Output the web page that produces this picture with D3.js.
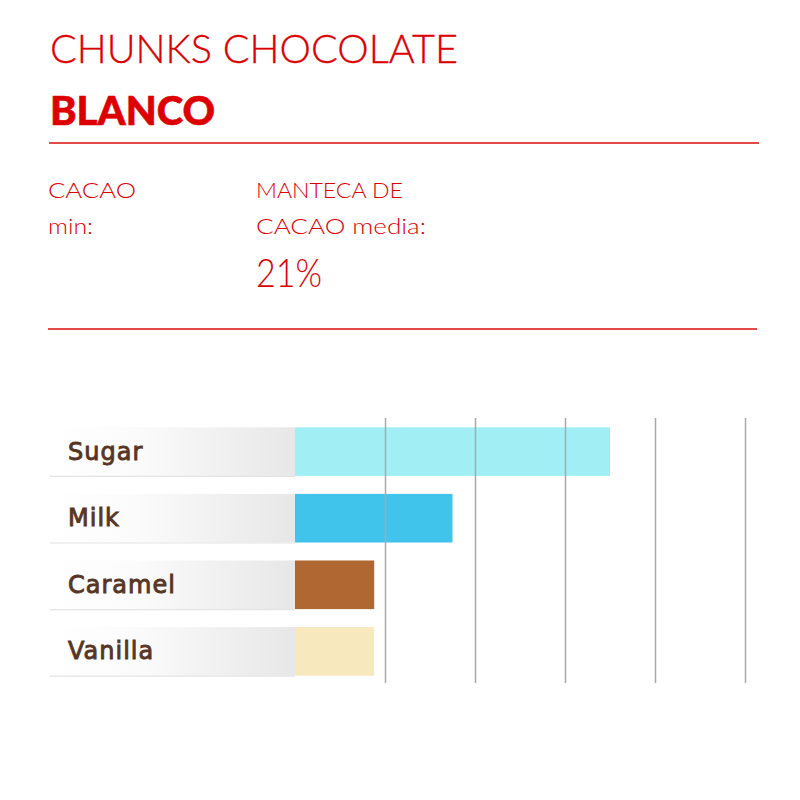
<!DOCTYPE html>
<html><head><meta charset="utf-8">
<script src="https://cdn.jsdelivr.net/npm/d3@7"></script>
<style>html,body{margin:0;padding:0;background:#fff}</style>
</head><body>
<svg id="c" width="800" height="800"></svg>
<script>
const categories = ["Sugar", "Milk", "Caramel", "Vanilla"];
const values = [3.5, 1.75, 0.88, 0.88];
const barColors = ["#a1eff5", "#40c4ec", "#b06731", "#f7e9bd"];
const tickValues = [1, 2, 3, 4, 5];
const title = "CHUNKS CHOCOLATE";
const subtitle = "BLANCO";
const infoLeft = ["CACAO", "min:"];
const infoRight = ["MANTECA DE", "CACAO media:"];
const infoValue = "21%";

const RED = "#dd0000";
const svg = d3.select("#c");
const FONT = "Lato";

// stretch a text element horizontally to a target width
function fit(sel, w) { sel.attr("textLength", w).attr("lengthAdjust", "spacingAndGlyphs"); return sel; }

// header
fit(svg.append("text").attr("x", 50).attr("y", 63).attr("fill", RED)
  .attr("font-family", FONT).attr("font-weight", 300).attr("font-size", 39.5)
  .attr("stroke", RED).attr("stroke-width", 0.3).text(title), 408);
fit(svg.append("text").attr("x", 50).attr("y", 125).attr("fill", RED)
  .attr("font-family", FONT).attr("font-weight", 900).attr("font-size", 39)
  .attr("stroke", RED).attr("stroke-width", 0.6).text(subtitle), 165);
svg.append("line").attr("x1", 49).attr("x2", 759).attr("y1", 143).attr("y2", 143)
  .attr("stroke", "#e34a4a").attr("stroke-width", 2);

const leftW = [88, 45], rightW = [147, 170];
svg.selectAll("text.il").data(infoLeft).join("text").attr("class", "il")
  .attr("x", 48).attr("y", (d, i) => 198 + i * 36).attr("fill", RED)
  .attr("font-family", FONT).attr("font-weight", 300).attr("font-size", 22)
  .attr("textLength", (d, i) => leftW[i]).attr("lengthAdjust", "spacingAndGlyphs").text(d => d);
svg.selectAll("text.ir").data(infoRight).join("text").attr("class", "ir")
  .attr("x", 256).attr("y", (d, i) => 198 + i * 36).attr("fill", RED)
  .attr("font-family", FONT).attr("font-weight", 300).attr("font-size", 22)
  .attr("textLength", (d, i) => rightW[i]).attr("lengthAdjust", "spacingAndGlyphs").text(d => d);
fit(svg.append("text").attr("x", 256).attr("y", 287).attr("fill", RED)
  .attr("font-family", FONT).attr("font-weight", 300).attr("font-size", 40).text(infoValue), 66);
svg.append("line").attr("x1", 48).attr("x2", 757).attr("y1", 329).attr("y2", 329)
  .attr("stroke", "#e34a4a").attr("stroke-width", 2);

// chart
const x = d3.scaleLinear().domain([0, 5]).range([295, 745]);
const y = d3.scaleBand().domain(categories).range([427.3, 675.7]).paddingInner(0.27).paddingOuter(0);

const defs = svg.append("defs");
const grad = defs.append("linearGradient").attr("id", "lg").attr("x1", "0%").attr("x2", "100%");
grad.append("stop").attr("offset", "0%").attr("stop-color", "#ffffff");
grad.append("stop").attr("offset", "35%").attr("stop-color", "#fbfbfb");
grad.append("stop").attr("offset", "100%").attr("stop-color", "#e7e7e7");

const rows = categories.map((c, i) => ({ c, v: values[i], col: barColors[i] }));

svg.selectAll("rect.bg").data(rows).join("rect").attr("class", "bg")
  .attr("x", 50).attr("width", x(0) - 50)
  .attr("y", d => y(d.c)).attr("height", y.bandwidth()).attr("fill", "url(#lg)");
svg.selectAll("line.ul").data(rows).join("line").attr("class", "ul")
  .attr("x1", 50).attr("x2", x(0))
  .attr("y1", d => y(d.c) + y.bandwidth() + 0.5).attr("y2", d => y(d.c) + y.bandwidth() + 0.5)
  .attr("stroke", "#e4e4e4").attr("stroke-width", 1.2);

svg.selectAll("rect.bar").data(rows).join("rect").attr("class", "bar")
  .attr("x", x(0)).attr("width", d => x(d.v) - x(0))
  .attr("y", d => y(d.c)).attr("height", y.bandwidth()).attr("fill", d => d.col);

const grid = svg.append("g").attr("transform", "translate(0,418)")
  .call(d3.axisBottom(x).tickValues(tickValues).tickSize(265).tickFormat(""));
grid.select(".domain").remove();
grid.selectAll(".tick line").attr("stroke", "#a9a9a9").attr("stroke-width", 1.5);

svg.selectAll("text.lab").data(rows).join("text").attr("class", "lab")
  .attr("x", 68).attr("y", d => y(d.c) + y.bandwidth() / 2 + 8)
  .attr("fill", "#573524").attr("stroke", "#573524").attr("stroke-width", 0.9)
  .attr("font-family", "DejaVu Sans").attr("font-size", 24).attr("letter-spacing", 1.0)
  .text(d => d.c);
</script>
</body></html>
